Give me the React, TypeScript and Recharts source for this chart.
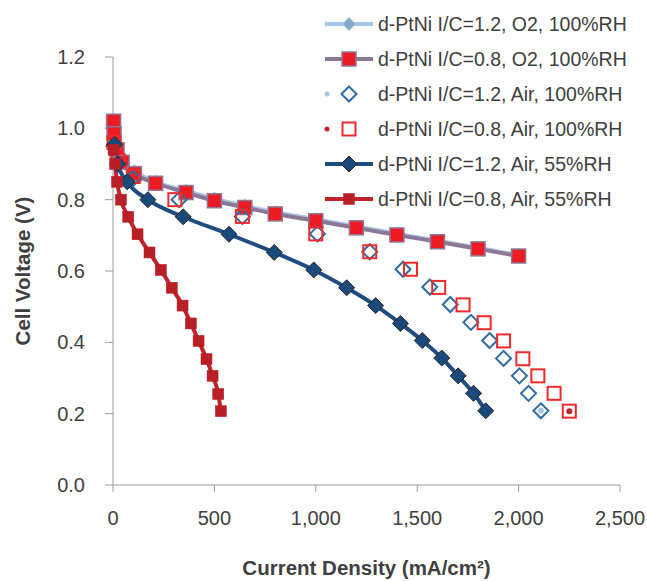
import React from 'react';
import { ComposedChart, Line, XAxis, YAxis, Legend } from 'recharts';

// current density (mA/cm2) and cell voltage (V)
const o2Ic12X = [3, 10, 45, 105, 210, 360, 500, 650, 800, 1000, 1200, 1400, 1600, 1800, 2000];
const o2Ic12V = [1.0, 0.96, 0.91, 0.88, 0.85, 0.825, 0.803, 0.783, 0.765, 0.745, 0.725, 0.705, 0.685, 0.665, 0.645];

const o2Ic08X = [3, 5, 20, 45, 105, 210, 360, 500, 650, 800, 1000, 1200, 1400, 1600, 1800, 2000];
const o2Ic08V = [1.02, 0.985, 0.94, 0.905, 0.873, 0.846, 0.82, 0.797, 0.778, 0.76, 0.741, 0.721, 0.701, 0.682, 0.662, 0.642];

const air100Ic12X = [5, 25, 100, 326, 638, 1008, 1266, 1430, 1562, 1663, 1765, 1857, 1926, 2004, 2049, 2110];
const air100Ic12V = [0.95, 0.9, 0.86, 0.8, 0.753, 0.704, 0.654, 0.605, 0.555, 0.506, 0.456, 0.405, 0.355, 0.306, 0.257, 0.208];

const air100Ic08X = [5, 25, 100, 305, 638, 1000, 1266, 1467, 1606, 1726, 1830, 1926, 2021, 2095, 2175, 2250];
const air100Ic08V = [0.96, 0.91, 0.865, 0.8, 0.753, 0.704, 0.654, 0.605, 0.554, 0.505, 0.455, 0.404, 0.354, 0.306, 0.257, 0.207];

const air55Ic12X = [7, 23, 70, 172, 346, 572, 795, 990, 1152, 1295, 1417, 1525, 1621, 1702, 1778, 1838];
const air55Ic12V = [0.955, 0.9, 0.85, 0.8, 0.752, 0.703, 0.652, 0.603, 0.553, 0.503, 0.453, 0.405, 0.356, 0.306, 0.257, 0.208];

const air55Ic08X = [3, 10, 20, 39, 75, 121, 180, 236, 290, 343, 384, 422, 461, 491, 519, 532];
const air55Ic08V = [0.94, 0.9, 0.85, 0.8, 0.752, 0.703, 0.652, 0.603, 0.553, 0.503, 0.453, 0.404, 0.353, 0.306, 0.255, 0.207];

const seriesNames = [
  'd-PtNi I/C=1.2, O2, 100%RH',
  'd-PtNi I/C=0.8, O2, 100%RH',
  'd-PtNi I/C=1.2, Air, 100%RH',
  'd-PtNi I/C=0.8, Air, 100%RH',
  'd-PtNi I/C=1.2, Air, 55%RH',
  'd-PtNi I/C=0.8, Air, 55%RH',
];

const xTicks = [0, 500, 1000, 1500, 2000, 2500];
const yTicks = [0, 0.2, 0.4, 0.6, 0.8, 1.0, 1.2];

const toPoints = (xs: number[], vs: number[]) => xs.map((x, i) => ({ x, v: vs[i] }));

const seriesData = [
  toPoints(o2Ic12X, o2Ic12V),
  toPoints(o2Ic08X, o2Ic08V),
  toPoints(air100Ic12X, air100Ic12V),
  toPoints(air100Ic08X, air100Ic08V),
  toPoints(air55Ic12X, air55Ic12V),
  toPoints(air55Ic08X, air55Ic08V),
];

type Marker = {
  kind: 'diamond' | 'square';
  size: number;
  fill: string;
  stroke: string;
  sw: number;
  dot?: string;
};

const styles: { line: string | null; marker: Marker }[] = [
  { line: '#a9c6e4', marker: { kind: 'diamond', size: 6.5, fill: '#87a7ca', stroke: '#a9c6e4', sw: 1 } },
  { line: '#8c7896', marker: { kind: 'square', size: 7, fill: '#ed1c24', stroke: '#8c7896', sw: 1.5 } },
  { line: null, marker: { kind: 'diamond', size: 7.5, fill: 'none', stroke: '#2e6ca5', sw: 2, dot: '#a9c6e4' } },
  { line: null, marker: { kind: 'square', size: 6.5, fill: 'none', stroke: '#ee2a2a', sw: 2, dot: '#c0232b' } },
  { line: '#1f4d80', marker: { kind: 'diamond', size: 8, fill: '#1a4a7c', stroke: '#262626', sw: 1 } },
  { line: '#c1232b', marker: { kind: 'square', size: 5.5, fill: '#b81f27', stroke: '#b81f27', sw: 0.5 } },
];

const drawMarker = (m: Marker, cx: number, cy: number, key?: string) => {
  if (m.kind === 'diamond') {
    const r = m.size;
    return (
      <polygon
        key={key}
        points={`${cx},${cy - r} ${cx + r},${cy} ${cx},${cy + r} ${cx - r},${cy}`}
        fill={m.fill}
        stroke={m.stroke}
        strokeWidth={m.sw}
      />
    );
  }
  const h = m.size;
  return (
    <rect key={key} x={cx - h} y={cy - h} width={h * 2} height={h * 2} fill={m.fill} stroke={m.stroke} strokeWidth={m.sw} />
  );
};

const font = '"Liberation Sans", Arial, sans-serif';
const textColor = '#404040';
const axisColor = '#9a9a9a';

const LegendBox = () => (
  <svg width={330} height={215}>
    {seriesNames.map((name, i) => {
      const cy = 24 + i * 35;
      const st = styles[i];
      return (
        <g key={name}>
          {st.line ? (
            <line x1={7} x2={55} y1={cy} y2={cy} stroke={st.line} strokeWidth={4} />
          ) : (
            <circle cx={9} cy={cy} r={2.5} fill={st.marker.dot} />
          )}
          {drawMarker(st.marker, 31, cy)}
          <text x={60} y={cy} dominantBaseline="central" fontFamily={font} fontSize={19.5} fill={textColor}>
            {name}
          </text>
        </g>
      );
    })}
  </svg>
);

export default function App() {
  return (
    <div style={{ position: 'absolute', left: 0, top: 0, width: 647, height: 581, background: '#fff' }}>
      <ComposedChart width={647} height={581} margin={{ top: 57, right: 27, bottom: 0, left: 0 }}>
        <XAxis
          dataKey="x"
          type="number"
          domain={[0, 2500]}
          ticks={xTicks}
          tickFormatter={(v: number) => v.toLocaleString('en-US')}
          height={96}
          tickSize={7}
          tickMargin={19}
          stroke={axisColor}
          tick={{ fill: textColor, fontSize: 20, fontFamily: font }}
          label={{
            value: 'Current Density (mA/cm²)',
            position: 'insideBottom',
            offset: 6,
            fill: textColor,
            fontSize: 20.5,
            fontWeight: 'bold',
            fontFamily: font,
          }}
        />
        <YAxis
          type="number"
          domain={[0, 1.2]}
          ticks={yTicks}
          tickFormatter={(v: number) => v.toFixed(1)}
          width={113}
          tickSize={8}
          tickMargin={20}
          stroke={axisColor}
          tick={{ fill: textColor, fontSize: 20, fontFamily: font }}
          label={{
            value: 'Cell Voltage (V)',
            angle: -90,
            position: 'insideLeft',
            offset: 23,
            style: { textAnchor: 'middle' },
            fill: textColor,
            fontSize: 20.5,
            fontWeight: 'bold',
            fontFamily: font,
          }}
        />
        {seriesData.map((data, i) => {
          const st = styles[i];
          const last = data.length - 1;
          return (
            <Line
              key={seriesNames[i]}
              data={data}
              dataKey="v"
              name={seriesNames[i]}
              type="monotone"
              stroke={st.line ?? 'none'}
              strokeWidth={st.line ? 4 : 0}
              isAnimationActive={false}
              activeDot={false}
              dot={(p: any) => (
                <g key={`${i}-${p.index}`}>
                  {drawMarker(st.marker, p.cx, p.cy)}
                  {st.marker.dot && p.index === last ? (
                    <circle cx={p.cx} cy={p.cy} r={3} fill={st.marker.dot} />
                  ) : null}
                </g>
              )}
            />
          );
        })}
        <Legend
          layout="vertical"
          align="center"
          verticalAlign="middle"
          content={() => <LegendBox />}
          wrapperStyle={{ top: 0, left: 318, width: 330, height: 215 }}
        />
      </ComposedChart>
    </div>
  );
}
